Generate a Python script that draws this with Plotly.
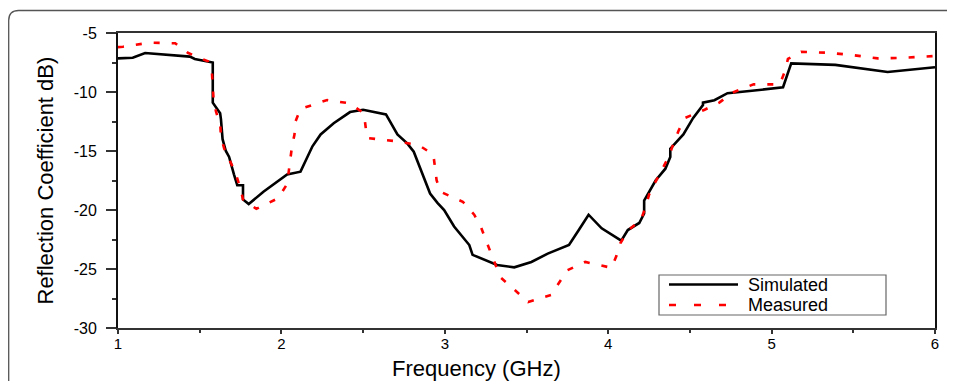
import plotly.graph_objects as go

sim_f = [1.0, 1.09, 1.166, 1.44, 1.47, 1.58, 1.58, 1.585, 1.625, 1.63, 1.64, 1.66, 1.68, 1.71, 1.73, 1.765, 1.765,
         1.80, 1.89, 2.035, 2.117, 2.19, 2.24, 2.32, 2.42, 2.50, 2.64, 2.71, 2.77, 2.81, 2.91, 2.955, 2.996,
         3.057, 3.15, 3.17, 3.22, 3.32, 3.425, 3.53, 3.63, 3.76, 3.82, 3.88, 3.96, 4.04, 4.08, 4.12, 4.19,
         4.22, 4.22, 4.29, 4.35, 4.38, 4.38, 4.46, 4.52, 4.58, 4.58, 4.65, 4.73, 4.88, 5.07, 5.12, 5.39,
         5.71, 6.0]
sim_db = [-7.15, -7.1, -6.7, -7.0, -7.2, -7.5, -10.9, -11.0, -11.8, -12.3, -14.0, -15.0, -15.5, -17.0, -17.9, -17.9, -19.1,
          -19.5, -18.45, -16.98, -16.75, -14.6, -13.6, -12.65, -11.7, -11.5, -11.9, -13.6, -14.35, -15.06, -18.6, -19.4, -20.0,
          -21.4, -22.97, -23.8, -24.1, -24.66, -24.86, -24.4, -23.7, -22.97, -21.7, -20.4, -21.55, -22.3, -22.6, -21.7, -21.1,
          -20.3, -19.2, -17.5, -16.5, -15.5, -14.8, -13.6, -12.2, -11.1, -10.9, -10.7, -10.1, -9.9, -9.6, -7.57, -7.7,
          -8.3, -7.9]

meas_f = [1.0, 1.03, 1.196, 1.35, 1.43, 1.55, 1.575, 1.58, 1.585, 1.60, 1.626, 1.63, 1.65, 1.687, 1.72, 1.75, 1.765,
          1.847, 1.98, 2.035, 2.045, 2.055, 2.065, 2.08, 2.086, 2.117, 2.28, 2.417, 2.505, 2.515, 2.525, 2.69, 2.84,
          2.93, 2.94, 2.95, 2.98, 3.11, 3.18, 3.22, 3.25, 3.28, 3.31, 3.34, 3.43, 3.51, 3.65, 3.70, 3.75, 3.86,
          4.02, 4.05, 4.075, 4.12, 4.20, 4.23, 4.25, 4.29, 4.33, 4.37, 4.40, 4.43, 4.47, 4.59, 4.68, 4.76, 4.89,
          5.05, 5.08, 5.10, 5.18, 5.34, 5.49, 5.65, 5.81, 6.0]
meas_db = [-6.2, -6.16, -5.82, -5.87, -6.7, -7.4, -8.4, -9.55, -10.7, -11.67, -12.8, -13.8, -14.8, -15.9, -16.9, -18.2, -19.1,
           -19.9, -19.0, -17.8, -16.75, -15.6, -14.6, -13.6, -12.5, -11.44, -10.68, -10.96, -11.8, -12.9, -13.9, -14.15, -14.5,
           -15.3, -16.4, -17.5, -18.5, -19.3, -20.4, -21.4, -22.5, -23.6, -24.66, -25.7, -26.8, -27.8, -27.2, -26.2, -25.1, -24.4,
           -24.9, -23.9, -22.8, -21.75, -20.85, -19.7, -18.7, -17.6, -16.5, -15.5, -14.35, -13.3, -12.2, -11.5, -10.9, -10.05, -9.35,
           -9.35, -8.3, -7.2, -6.6, -6.67, -6.86, -7.15, -7.1, -6.95]

x_ticks = [1, 2, 3, 4, 5, 6]
y_ticks = [-5, -10, -15, -20, -25, -30]
y_ticktext = ["-5", "-10", "-15", "-20", "-25", "-30"]
series_names = ["Simulated", "Measured"]
x_title = "Frequency (GHz)"
y_title = "Reflection Coefficient dB)"

FONT = "Liberation Sans, Arial, sans-serif"
RED = "#ff0000"
MEAS_DASH = "6px,12px"

# page body has an 8px margin: figure is sized/offset so the plot area lands
# at screen x 118..935, y 33..328
PW, PH = 817, 295

def px(X):
    return (X - 118) / PW

def py(Y):
    return (328 - Y) / PH

fig = go.Figure()
fig.add_trace(go.Scatter(x=sim_f, y=sim_db, mode="lines", name=series_names[0],
                         line=dict(color="black", width=2.6)))
fig.add_trace(go.Scatter(x=meas_f, y=meas_db, mode="lines", name=series_names[1],
                         line=dict(color=RED, width=2.6, dash=MEAS_DASH)))

# rounded outer frame (partially visible)
x0, y0, x1, y1 = px(8.7), py(10.5), px(960), py(400)
r = 10 / PW
ry = 10 / PH
frame = f"M {x0},{y1} L {x0},{y0 - ry} Q {x0},{y0} {x0 + r},{y0} L {x1},{y0}"
fig.add_shape(type="path", path=frame, xref="paper", yref="paper",
              line=dict(color="#555555", width=1.3), layer="below")

# legend box, drawn inside the plot like the original
fig.add_shape(type="rect", xref="paper", yref="paper", x0=px(659), x1=px(886), y0=py(315), y1=py(275),
              line=dict(color="#666666", width=1.2), fillcolor="white", layer="above")
legend_rows = [(284.5, "black", "solid"), (305, RED, "7px,18px")]
for name, (ly, col, dash) in zip(series_names, legend_rows):
    fig.add_shape(type="line", xref="paper", yref="paper", x0=px(669), x1=px(738), y0=py(ly), y1=py(ly),
                  line=dict(color=col, width=2.6, dash=dash), layer="above")
    fig.add_annotation(text=name, xref="paper", yref="paper", x=px(746), y=py(ly), xanchor="left",
                       yanchor="middle", showarrow=False, font=dict(size=18, family=FONT, color="black"))

# axis titles
fig.add_annotation(text=x_title, xref="paper", yref="paper", x=px(476), y=py(368),
                   xanchor="center", yanchor="middle", showarrow=False,
                   font=dict(size=22, family=FONT, color="black"))
fig.add_annotation(text=y_title, xref="paper", yref="paper", x=px(45), y=0.5,
                   xanchor="center", yanchor="middle", showarrow=False, textangle=-90,
                   font=dict(size=22, family=FONT, color="black"))

fig.update_layout(
    width=947, height=373,
    margin=dict(l=110, r=20, t=25, b=53),
    paper_bgcolor="white", plot_bgcolor="white",
    font=dict(family=FONT, color="black"),
    showlegend=False,
    xaxis=dict(range=[1, 6], tickvals=x_ticks, ticks="outside", ticklen=4, tickwidth=2,
               tickcolor="#333", showline=True, linecolor="#333", linewidth=2, mirror=True,
               showgrid=False, zeroline=False, tickfont=dict(size=15, family=FONT), automargin=False,
               ticklabelstandoff=-3,
               minor=dict(dtick=0.5, ticks="outside", ticklen=3, tickwidth=2, tickcolor="#333")),
    yaxis=dict(range=[-30, -5], tickvals=y_ticks, ticktext=y_ticktext, ticks="outside", ticklen=10,
               tickwidth=1.5, tickcolor="#333", showline=True, linecolor="#111", linewidth=2, mirror=True,
               showgrid=False, zeroline=False, tickfont=dict(size=16, family=FONT), automargin=False,
               ticklabelstandoff=6,
               minor=dict(dtick=2.5, ticks="outside", ticklen=4, tickwidth=1.5, tickcolor="#333")),
)

fig.write_html("out.html")
